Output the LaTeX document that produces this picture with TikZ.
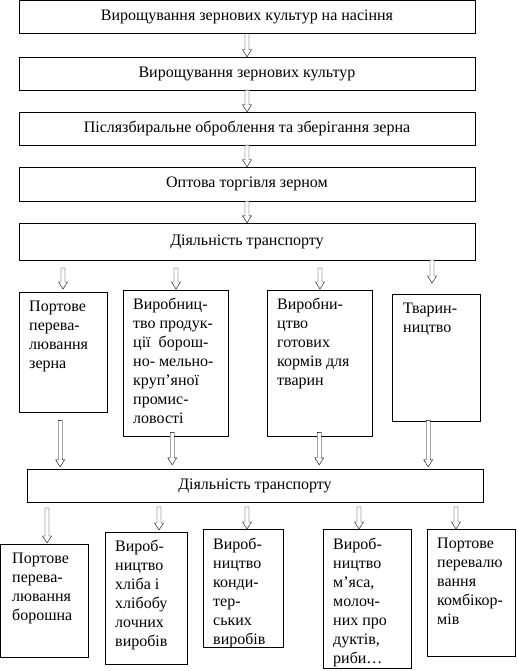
\documentclass[tikz,border=0pt]{standalone}
\usepackage{fontspec}
\setmainfont{Liberation Serif}
\usetikzlibrary{positioning,calc}

% hollow block arrow, pointing down
\newcommand{\blockarrow}[2]{%
  \draw[fill=white] let \p1=(#1), \p2=(#2) in
    (\x1-2pt,\y1) -- (\x1-2pt,\y2+7pt) -- (\x1-4.5pt,\y2+7pt) -- (\x1,\y2) --
    (\x1+4.5pt,\y2+7pt) -- (\x1+2pt,\y2+7pt) -- (\x1+2pt,\y1) -- cycle;}

\tikzset{
  stage/.style={draw, minimum width=456pt, minimum height=33pt, inner sep=0pt,
    font=\fontsize{16}{19}\selectfont},
  branch/.style={draw, anchor=north west, inner sep=0pt},
  caption/.style={anchor=north west, align=left, inner sep=0pt,
    font=\fontsize{16}{19}\selectfont}
}

\begin{document}
\begin{tikzpicture}[x=1pt,y=-1pt]
  \useasboundingbox (0,0) rectangle (518,671);

  % chain of stages
  \node[stage] (seed)   at (247,17)    {Вирощування зернових культур на насіння};
  \node[stage] (grow)   at (247,73.5)  {Вирощування зернових культур};
  \node[stage] (store)  at (247,128.5) {Післязбиральне оброблення та зберігання зерна};
  \node[stage, minimum height=34pt] (trade)  at (247,184) {Оптова торгівля зерном};
  \node[stage, minimum height=37pt] (trans1) at (247,241.5) {Діяльність транспорту};

  \blockarrow{seed.south}{grow.north}
  \blockarrow{grow.south}{store.north}
  \blockarrow{store.south}{trade.north}
  \blockarrow{trade.south}{trans1.north}

  % first branch row
  \node[branch, minimum width=88pt,  minimum height=120pt] (port)  at (19,292)  {};
  \node[branch, minimum width=105pt, minimum height=146pt] (mill)  at (123,290) {};
  \node[branch, minimum width=105pt, minimum height=146pt] (feed)  at (267,290) {};
  \node[branch, minimum width=88pt,  minimum height=127pt] (stock) at (392,294) {};

  \node[caption] (port-t)  at ($(port.north west)+(10,9)$)  {Портове\\перева-\\лювання\\зерна};
  \node[caption] (mill-t)  at ($(mill.north west)+(10,8)$)  {Виробниц-\\тво продук-\\ції~ борош-\\но- мельно-\\круп’яної\\промис-\\ловості};
  \node[caption] (feed-t)  at ($(feed.north west)+(10,8)$)  {Виробни-\\цтво\\готових\\кормів для\\тварин};
  \node[caption] (stock-t) at ($(stock.north west)+(11,9)$) {Тварин-\\ництво};

  \coordinate (port-in)  at (63,268);
  \coordinate (mill-in)  at (176,268);
  \coordinate (feed-in)  at (320,268);
  \coordinate (stock-in) at (432,260);
  \blockarrow{port-in}{$(port.north)+(0,-3)$}
  \blockarrow{mill-in}{$(mill.north)+(0,-1)$}
  \blockarrow{feed-in}{$(feed.north)+(0,-1)$}
  \blockarrow{stock-in}{$(stock.north)+(0,-11)$}

  % second transport stage
  \node[stage] (trans2) at (255,485.5) {Діяльність транспорту};

  \blockarrow{$(port.south)+(-3,8)$}{$(trans2.north)+(0,-2)$}
  \blockarrow{$(mill.south)+(-3.5,-4)$}{$(trans2.north)+(0,-4)$}
  \blockarrow{$(feed.south)+(-0.5,-4)$}{$(trans2.north)+(0,-4)$}
  \blockarrow{$(stock.south)+(-8,-1)$}{$(trans2.north)+(0,-2)$}

  % second branch row
  \node[branch, minimum width=88pt, minimum height=113pt] (flour)   at (0,544)   {};
  \node[branch, minimum width=82pt, minimum height=132pt] (bread)   at (105,532) {};
  \node[branch, minimum width=80pt, minimum height=118pt] (sweets)  at (203,529) {};
  \node[branch, minimum width=88pt, minimum height=139pt] (meat)    at (323,529) {};
  \node[branch, minimum width=88pt, minimum height=127pt] (mixfeed) at (427,529) {};

  \node[caption] (flour-t)   at ($(flour.north west)+(12,9)$)   {Портове\\перева-\\лювання\\борошна};
  \node[caption] (bread-t)   at ($(bread.north west)+(10,8)$)   {Вироб-\\ництво\\хліба і\\хлібобу\\лочних\\виробів};
  \node[caption] (sweets-t)  at ($(sweets.north west)+(10,9)$)  {Вироб-\\ництво\\конди-\\тер-\\ських\\виробів};
  \node[caption] (meat-t)    at ($(meat.north west)+(10,9)$)    {Вироб-\\ництво\\м’яса,\\молоч-\\них про\\дуктів,\\риби…};
  \node[caption] (mixfeed-t) at ($(mixfeed.north west)+(10,9)$) {Портове\\перевалю\\вання\\комбікор-\\мів};

  \coordinate (flour-in)   at (47,508);
  \coordinate (bread-in)   at (159,507);
  \coordinate (sweets-in)  at (247,507);
  \coordinate (meat-in)    at (359,507);
  \coordinate (mixfeed-in) at (456,507);
  \blockarrow{flour-in}{$(flour.north)+(0,-1)$}
  \blockarrow{bread-in}{$(bread.north)+(0,-2)$}
  \blockarrow{sweets-in}{sweets.north}
  \blockarrow{meat-in}{meat.north}
  \blockarrow{mixfeed-in}{mixfeed.north}
\end{tikzpicture}
\end{document}
